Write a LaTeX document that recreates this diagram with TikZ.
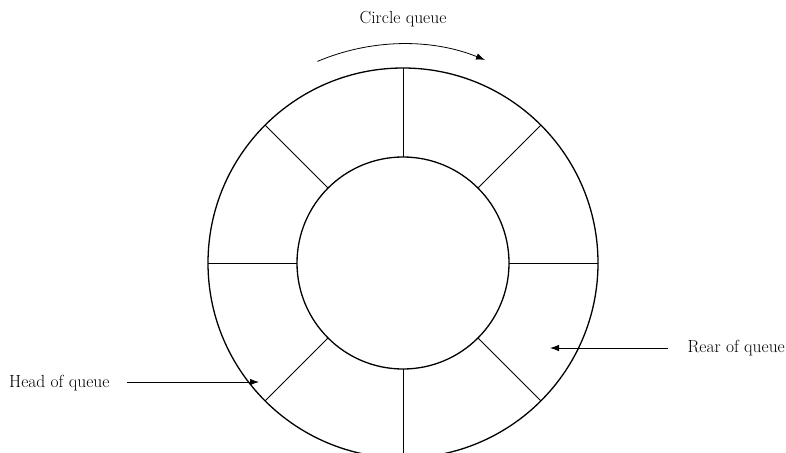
\documentclass[tikz,border=0pt]{standalone}
\usetikzlibrary{arrows.meta,calc}
\begin{document}
\begin{tikzpicture}[x=1pt,y=-1pt,
  ring/.style={line width=1.3pt},
  spoke/.style={line width=0.8pt},
  arr/.style={line width=0.8pt,-{Latex[length=9pt,width=6.5pt]}},
  lbl/.style={font=\fontsize{17.5}{20}\selectfont,inner sep=0pt}]
\useasboundingbox (0,0) rectangle (786,452);
\coordinate (c) at (403,263);
\draw[ring] (c) circle[radius=195];
\draw[ring] (c) circle[radius=106];
\foreach \a in {0,45,...,315}
  \draw[spoke] ($(c)+(\a:106)$) -- ($(c)+(\a:195)$);
% top
\node[lbl] (title) at (403,19) {Circle queue};
\draw[arr] ($(c)+(-113:219)$) coordinate (arcstart) arc[start angle=-113,end angle=-68,radius=219];
% head
\node[lbl,anchor=west] (head) at (9,383) {Head of queue};
\coordinate (headstart) at (127,382);
\coordinate (headtip) at (259,382);
\draw[arr] (headstart) -- (headtip);
% rear
\node[lbl,anchor=east] (rear) at (785,348) {Rear of queue};
\coordinate (rearstart) at (668,348);
\coordinate (reartip) at (550,348);
\draw[arr] (rearstart) -- (reartip);
\end{tikzpicture}
\end{document}
